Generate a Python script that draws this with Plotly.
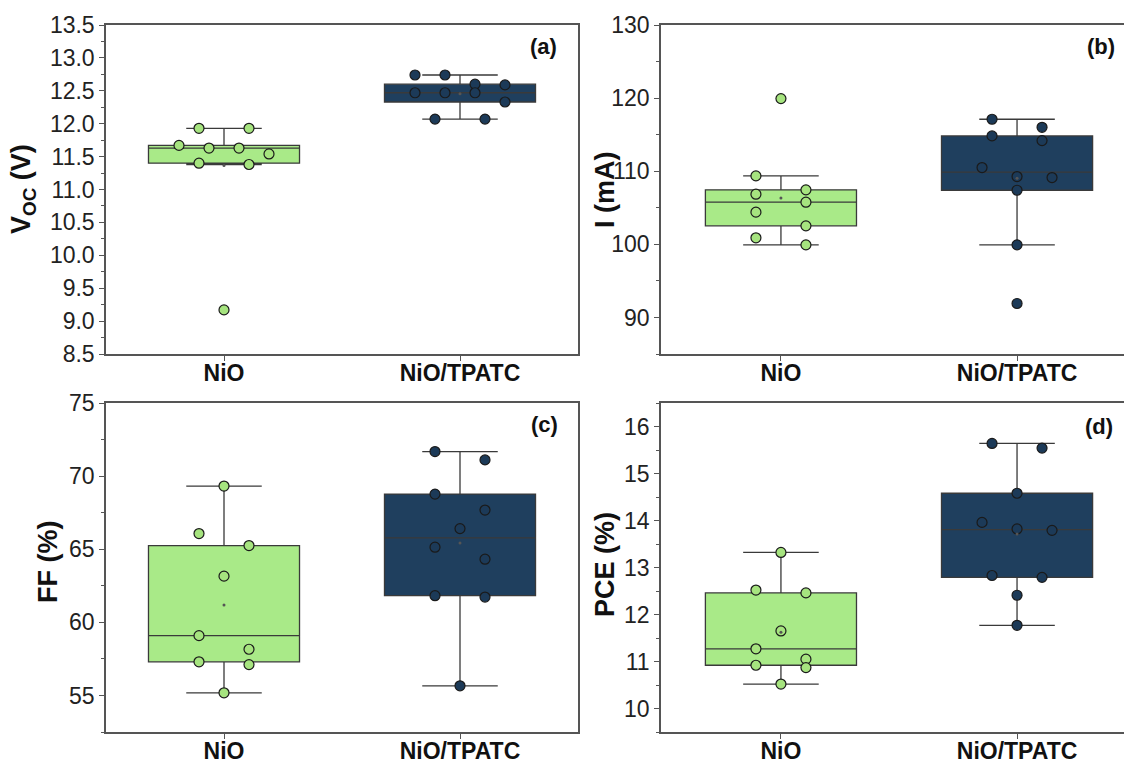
import numpy as np
import plotly.graph_objects as go

# ---------------- data ----------------
categories = ["NiO", "NiO/TPATC"]

voc_nio = [11.93, 11.63, 11.54, 11.38, 9.17, 11.40, 11.63, 11.67, 11.93]
voc_tpatc = [12.47, 12.59, 12.74, 12.33, 12.07, 12.47, 12.60, 12.74, 12.07, 12.47]

i_nio = [106.86, 102.53, 105.76, 119.93, 100.89, 99.93, 107.45, 104.40, 109.36]
i_tpatc = [110.50, 109.27, 117.11, 114.83, 107.40, 99.93, 91.91, 116.01, 114.19, 109.13]

ff_nio = [59.09, 57.30, 69.32, 66.07, 65.25, 63.16, 55.18, 58.16, 57.11]
ff_tpatc = [71.11, 66.41, 64.32, 61.73, 68.77, 55.66, 71.68, 67.68, 65.14, 61.82]

pce_nio = [10.52, 11.27, 12.52, 13.32, 11.05, 10.92, 12.46, 11.65, 10.87]
pce_tpatc = [12.41, 13.79, 15.64, 14.58, 13.96, 12.79, 11.77, 15.54, 13.82, 12.83]

y_titles = ["<b>V<sub>OC</sub> (V)</b>", "<b>I (mA)</b>", "<b>FF (%)</b>", "<b>PCE (%)</b>"]
panel_labels = ["<b>(a)</b>", "<b>(b)</b>", "<b>(c)</b>", "<b>(d)</b>"]

# ---------------- layout / style ----------------
W, H = 1124, 767
FONT = "Liberation Sans, Arial, sans-serif"
fills = ["#A9EA88", "#1F3F5E"]
pt_colors = ["#A6E47F", "#1C3A58"]
box_line = "#3a3a3a"
axis_col = "#555555"

panels = [
    dict(data=(voc_nio, voc_tpatc), left=106, right=578, top=25, bottom=354,
         xr=[-0.5, 1.5], yr=[8.5, 13.5], dtick=0.5, minor=0.25, fmt=".1f", mirror=True,
         title_xy=(23, 189), label_xy=(543, 47)),
    dict(data=(i_nio, i_tpatc), left=661, right=1124, top=25, bottom=354,
         xr=[-0.508, 1.453], yr=[85, 130], dtick=10, minor=5, fmt="", mirror=False,
         title_xy=(605, 190), label_xy=(1101, 47)),
    dict(data=(ff_nio, ff_tpatc), left=106, right=578, top=403, bottom=732,
         xr=[-0.5, 1.5], yr=[52.5, 75], dtick=5, minor=2.5, fmt="", mirror=True,
         title_xy=(48, 562), label_xy=(544, 425)),
    dict(data=(pce_nio, pce_tpatc), left=661, right=1124, top=403, bottom=732,
         xr=[-0.508, 1.453], yr=[9.5, 16.5], dtick=1, minor=0.5, fmt="", mirror=False,
         title_xy=(605, 565), label_xy=(1099, 426)),
]


def swarm(vals, center, px_per_y, px_per_x, row_px=16.0):
    """Group points into horizontal rows and spread each row symmetrically."""
    vals = np.asarray(vals, dtype=float)
    order = np.argsort(-vals, kind="stable")
    xs = np.zeros(len(vals))
    rows = []
    for i in order:
        if rows and (vals[rows[-1][0]] - vals[i]) * px_per_y < row_px:
            rows[-1].append(i)
        else:
            rows.append([i])
    for row in rows:
        m = len(row)
        if m == 1:
            xs[row[0]] = center
            continue
        span = min(130.0, 50.0 + 20.0 * (m - 2))
        step = span / (m - 1)
        for j, i in enumerate(row):
            xs[i] = center + (j - (m - 1) / 2) * step / px_per_x
    return xs


fig = go.Figure()
annotations = []
layout = {}

for p_i, p in enumerate(panels):
    n = p_i + 1
    xa = "x" if n == 1 else f"x{n}"
    ya = "y" if n == 1 else f"y{n}"
    px_per_x = (p["right"] - p["left"]) / (p["xr"][1] - p["xr"][0])
    px_per_y = (p["bottom"] - p["top"]) / (p["yr"][1] - p["yr"][0])

    for g, vals in enumerate(p["data"]):
        fig.add_trace(go.Box(
            y=vals, x0=g, xaxis=xa, yaxis=ya,
            quartilemethod="inclusive", boxpoints="outliers",
            width=0.64, whiskerwidth=0.5,
            fillcolor=fills[g],
            line=dict(color=box_line, width=1.3),
            marker=dict(color="rgba(0,0,0,0)", size=1, line=dict(width=0)),
            showlegend=False, hoverinfo="skip",
        ))
        xs = swarm(vals, g, px_per_y, px_per_x)
        fig.add_trace(go.Scatter(
            x=xs, y=vals, xaxis=xa, yaxis=ya, mode="markers",
            marker=dict(size=10, color=pt_colors[g], line=dict(color="#1a1a1a", width=1.2)),
            showlegend=False, hoverinfo="skip",
        ))
        fig.add_trace(go.Scatter(
            x=[g], y=[float(np.mean(vals))], xaxis=xa, yaxis=ya, mode="markers",
            marker=dict(size=3, color="#555555"),
            showlegend=False, hoverinfo="skip",
        ))

    xkey = "xaxis" if n == 1 else f"xaxis{n}"
    ykey = "yaxis" if n == 1 else f"yaxis{n}"
    layout[xkey] = dict(
        domain=[p["left"] / W, p["right"] / W], anchor=ya, range=p["xr"],
        tickvals=[0, 1], ticktext=categories, automargin=False,
        showline=True, linecolor=axis_col, linewidth=1.5, mirror=True,
        ticks="outside", ticklen=5, tickcolor=axis_col, tickwidth=1.2,
        ticklabelstandoff=-7,
        showgrid=False, zeroline=False,
        tickfont=dict(family=FONT, size=23, color="#111111", weight="bold"),
    )
    layout[ykey] = dict(
        domain=[1 - p["bottom"] / H, 1 - p["top"] / H], anchor=xa, range=p["yr"],
        dtick=p["dtick"], tickformat=p["fmt"], automargin=False,
        showline=True, linecolor=axis_col, linewidth=1.5, mirror=p["mirror"],
        ticks="outside", ticklen=5, tickcolor=axis_col, tickwidth=1.2,
        minor=dict(dtick=p["minor"], ticks="outside", ticklen=3, tickcolor=axis_col, tickwidth=1),
        showgrid=False, zeroline=False,
        tickfont=dict(family=FONT, size=23, color="#222222"),
    )
    tx, ty = p["title_xy"]
    annotations.append(dict(
        text=y_titles[p_i], x=tx / W, y=1 - ty / H, xref="paper", yref="paper",
        xanchor="center", yanchor="middle", textangle=-90, showarrow=False,
        font=dict(family=FONT, size=27, color="#111111"),
    ))
    lx, ly = p["label_xy"]
    annotations.append(dict(
        text=panel_labels[p_i], x=lx / W, y=1 - ly / H, xref="paper", yref="paper",
        xanchor="center", yanchor="middle", showarrow=False,
        font=dict(family=FONT, size=22, color="#111111"),
    ))

fig.update_layout(
    width=W, height=H, margin=dict(l=0, r=0, t=0, b=0, autoexpand=False),
    paper_bgcolor="white", plot_bgcolor="white",
    annotations=annotations, **layout,
)

fig.write_html("out.html", config={"displayModeBar": False},
               post_script="document.body.style.margin='0px';")
